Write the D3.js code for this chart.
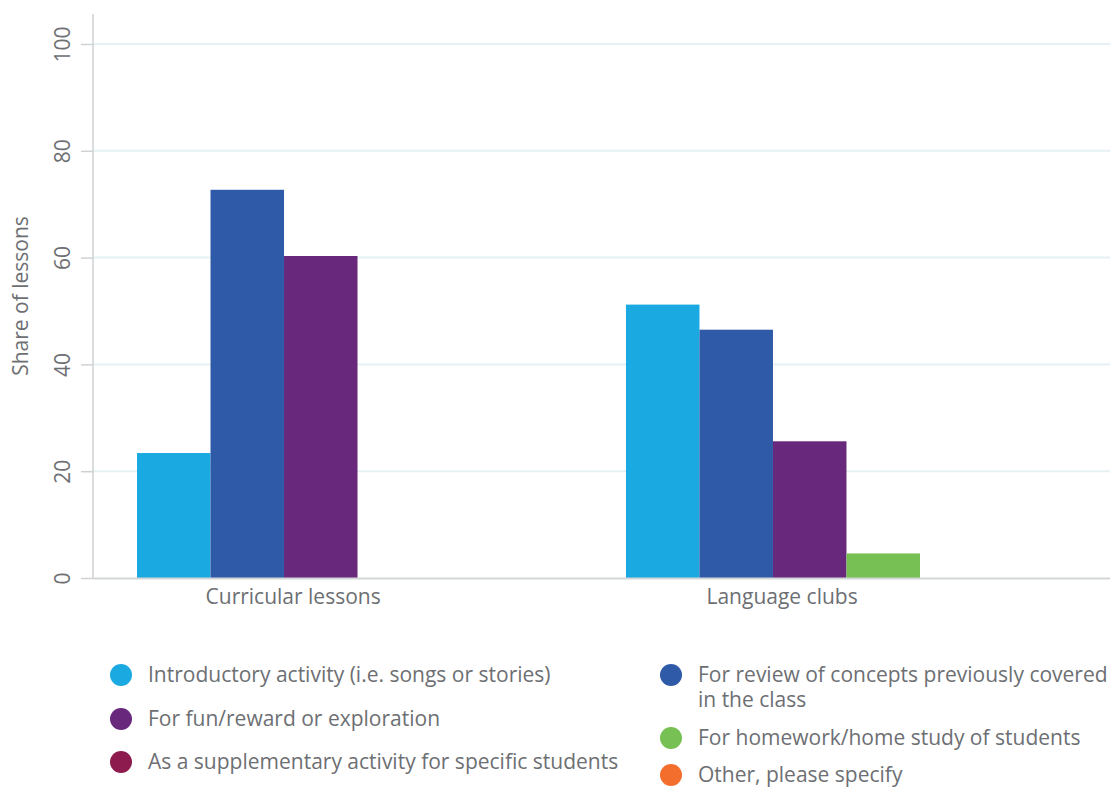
<!DOCTYPE html>
<html>
<head>
<meta charset="utf-8">
<script src="https://cdn.jsdelivr.net/npm/d3@7"></script>
<style>
  body { margin: 0; background: #fff; }
  text { font-family: "Open Sans", "Liberation Sans", sans-serif; fill: #6d6f73; }
</style>
</head>
<body>
<div id="chart"></div>
<script>
const categories = ['Curricular lessons', 'Language clubs'];
const seriesNames = [
    'Introductory activity (i.e. songs or stories)',
    'For review of concepts previously covered in the class',
    'For fun/reward or exploration',
    'For homework/home study of students',
    'As a supplementary activity for specific students',
    'Other, please specify'
];
const curricularValues = [23.4, 72.7, 60.3, 0, 0, 0];
const clubValues = [51.2, 46.5, 25.6, 4.6, 0, 0];
const seriesColors = ['#1ba9e1', '#2f5aa7', '#68297c', '#77c053', '#8d1b4d', '#f36e2d'];
const yTicks = [0, 20, 40, 60, 80, 100];

const values = [curricularValues, clubValues];

const W = 1110, H = 787;
const plotLeft = 93, plotRight = 1111, plotTop = 14, plotBottom = 578;

const svg = d3.select('#chart').append('svg')
    .attr('width', W)
    .attr('height', H);

const y = d3.scaleLinear()
    .domain([0, 100])
    .range([plotBottom, 44]);

const x0 = d3.scaleBand()
    .domain(categories)
    .range([plotLeft, plotRight])
    .paddingInner(0.098)
    .paddingOuter(0.09);

const x1 = d3.scaleBand()
    .domain(d3.range(seriesNames.length))
    .range([0, x0.bandwidth()]);

// gridlines
svg.append('g')
    .selectAll('line')
    .data(yTicks.filter(d => d > 0))
    .join('line')
    .attr('x1', plotLeft).attr('x2', W)
    .attr('y1', d => y(d)).attr('y2', d => y(d))
    .style('stroke', '#e6f1f3')
    .style('stroke-width', 2);

// y axis
const yAxis = svg.append('g')
    .attr('transform', 'translate(' + plotLeft + ',0)')
    .call(d3.axisLeft(y).tickValues(yTicks).tickSize(12).tickPadding(0).tickFormat(d3.format('d')));
yAxis.select('.domain').remove();
yAxis.selectAll('.tick line').style('stroke', '#cfd1d2').style('stroke-width', 1.5);
yAxis.selectAll('.tick text')
    .attr('x', null).attr('dy', null)
    .attr('transform', 'translate(-23,0) rotate(-90)')
    .attr('text-anchor', 'middle')
    .style('font-size', '21px')
    .style('font-family', '"Open Sans", sans-serif')
    .style('fill', '#6d6f73');

svg.append('line')
    .attr('x1', plotLeft).attr('x2', plotLeft)
    .attr('y1', plotTop).attr('y2', plotBottom)
    .style('stroke', '#cfd1d2')
    .style('stroke-width', 1.5);

svg.append('text')
    .attr('transform', 'translate(28,' + 296 + ') rotate(-90)')
    .attr('text-anchor', 'middle')
    .style('font-size', '21px')
    .text('Share of lessons');

// bars
const groups = svg.append('g')
    .selectAll('g')
    .data(categories)
    .join('g')
    .attr('transform', d => 'translate(' + x0(d) + ',0)');

groups.selectAll('rect')
    .data((c, ci) => values[ci].map((v, i) => ({ i: i, v: v })))
    .join('rect')
    .attr('x', d => x1(d.i))
    .attr('width', x1.bandwidth())
    .attr('y', d => y(d.v))
    .attr('height', d => y(0) - y(d.v))
    .style('fill', d => seriesColors[d.i]);

// baseline
svg.append('line')
    .attr('x1', plotLeft).attr('x2', W)
    .attr('y1', plotBottom + 0.5).attr('y2', plotBottom + 0.5)
    .style('stroke', '#d3d6d6')
    .style('stroke-width', 2);

// category labels
svg.append('g')
    .selectAll('text')
    .data(categories)
    .join('text')
    .attr('x', d => x0(d) + x0.bandwidth() * 0.354)
    .attr('y', 604)
    .attr('text-anchor', 'middle')
    .style('font-size', '21px')
    .text(d => d);

// legend, two columns filled row by row
const colX = [121, 671];
const legendY = [675, 675, 719, 738, 762, 775];
const legend = svg.append('g')
    .selectAll('g')
    .data(seriesNames)
    .join('g')
    .attr('transform', (d, i) => 'translate(' + colX[i % 2] + ',' + legendY[i] + ')');

legend.append('circle')
    .attr('r', 11)
    .style('fill', (d, i) => seriesColors[i]);

legend.append('text')
    .attr('x', 27)
    .attr('y', 7)
    .style('font-size', '21px')
    .each(function(d, i) {
        const t = d3.select(this);
        const maxW = W - colX[i % 2] - 27;
        const words = d.split(' ');
        let line = [];
        let ts = t.append('tspan').attr('x', 27);
        words.forEach(w => {
            line.push(w);
            ts.text(line.join(' '));
            if (ts.node().getComputedTextLength() > maxW && line.length > 1) {
                line.pop();
                ts.text(line.join(' '));
                line = [w];
                ts = t.append('tspan').attr('x', 27).attr('dy', 25).text(w);
            }
        });
    });
</script>
</body>
</html>
